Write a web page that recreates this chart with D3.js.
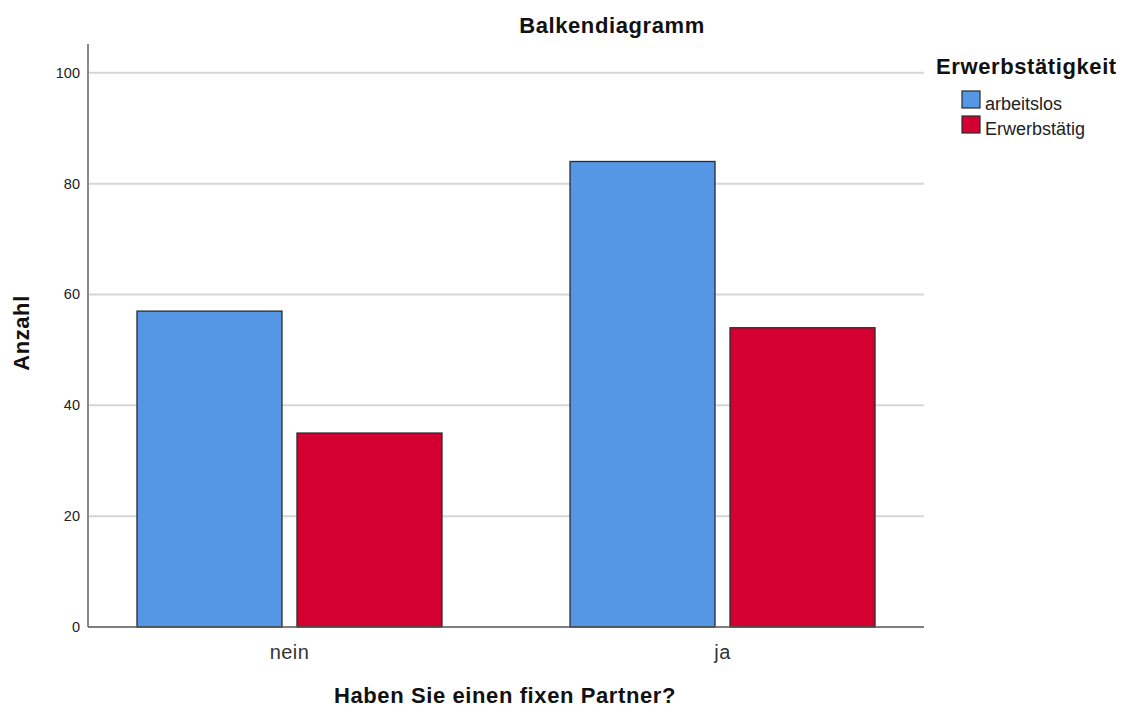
<!DOCTYPE html>
<html lang="de">
<head>
<meta charset="UTF-8">
<title>Balkendiagramm</title>
<style>
    body { margin: 0; background: #fff; font-family: "Liberation Sans", Arial, sans-serif; }
    .grid line { stroke: #d6d6d6; stroke-width: 2px; }
    .tick-label { font-size: 14.5px; fill: #222; }
    .cat-label { font-size: 20px; fill: #333; letter-spacing: 0.4px; }
    .axis-title { font-size: 22px; font-weight: bold; fill: #111; letter-spacing: 0.6px; }
</style>
</head>
<body>
<div id="chart"></div>
<script src="https://d3js.org/d3.v7.min.js"></script>
<script>
// data
const categories = ['nein', 'ja'];
const seriesNames = ['arbeitslos', 'Erwerbstätig'];
const arbeitslos = [57, 84];
const erwerbstaetig = [35, 54];
const yTicks = [0, 20, 40, 60, 80, 100];
const colors = ['#5596e5', '#d50032'];

const W = 1127, H = 709;
const plot = { left: 88, right: 924, top: 44, bottom: 627 };

const svg = d3.select('#chart').append('svg')
    .attr('width', W)
    .attr('height', H);

const y = d3.scaleLinear()
    .domain([0, 105.2])
    .range([plot.bottom, plot.top]);

const x = d3.scalePoint()
    .domain(categories)
    .range([plot.left, plot.right])
    .padding(0.4653);

const xs = d3.scaleBand()
    .domain(seriesNames)
    .range([-152.5, 152.5])
    .paddingInner(0.09375);

// gridlines
svg.append('g').attr('class', 'grid')
    .selectAll('line')
    .data(yTicks.filter(d => d > 0))
    .enter().append('line')
    .attr('x1', plot.left + 1)
    .attr('x2', plot.right)
    .attr('y1', d => y(d))
    .attr('y2', d => y(d));

// y tick labels
svg.append('g')
    .selectAll('text')
    .data(yTicks)
    .enter().append('text')
    .attr('class', 'tick-label')
    .attr('x', plot.left - 8)
    .attr('y', d => y(d) + 5)
    .attr('text-anchor', 'end')
    .text(d => d);

// bars
const rows = categories.map((c, i) => ({ cat: c, values: [arbeitslos[i], erwerbstaetig[i]] }));

const groups = svg.append('g')
    .selectAll('g')
    .data(rows)
    .enter().append('g')
    .attr('transform', d => `translate(${x(d.cat)},0)`);

groups.selectAll('rect')
    .data(d => d.values.map((v, j) => ({ name: seriesNames[j], value: v, j })))
    .enter().append('rect')
    .attr('x', d => xs(d.name))
    .attr('width', xs.bandwidth())
    .attr('y', d => y(d.value))
    .attr('height', d => y(0) - y(d.value))
    .attr('fill', d => colors[d.j])
    .attr('stroke', '#2b2b2b')
    .attr('stroke-width', 1.3);

// axis lines
svg.append('line')
    .attr('x1', plot.left).attr('x2', plot.left)
    .attr('y1', plot.top).attr('y2', plot.bottom)
    .attr('stroke', '#8a8a8a').attr('stroke-width', 2);

svg.append('line')
    .attr('x1', plot.left).attr('x2', plot.right)
    .attr('y1', plot.bottom).attr('y2', plot.bottom)
    .attr('stroke', '#555').attr('stroke-width', 1.5);

// category labels
svg.append('g')
    .selectAll('text')
    .data(categories)
    .enter().append('text')
    .attr('class', 'cat-label')
    .attr('x', d => x(d))
    .attr('y', 659)
    .attr('text-anchor', 'middle')
    .text(d => d);

// titles
svg.append('text')
    .attr('class', 'axis-title')
    .attr('x', 612).attr('y', 33)
    .attr('text-anchor', 'middle')
    .text('Balkendiagramm');

svg.append('text')
    .attr('class', 'axis-title')
    .attr('x', 505).attr('y', 703)
    .attr('text-anchor', 'middle')
    .text('Haben Sie einen fixen Partner?');

svg.append('text')
    .attr('class', 'axis-title')
    .attr('transform', 'translate(29,333) rotate(-90)')
    .attr('text-anchor', 'middle')
    .text('Anzahl');

// legend
const legend = svg.append('g').attr('transform', 'translate(936,0)');

legend.append('text')
    .attr('class', 'axis-title')
    .attr('x', 0).attr('y', 74)
    .text('Erwerbstätigkeit');

const items = legend.selectAll('g.item')
    .data(seriesNames)
    .enter().append('g')
    .attr('class', 'item')
    .attr('transform', (d, i) => `translate(26,${91 + i * 25})`);

items.append('rect')
    .attr('width', 18).attr('height', 17)
    .attr('fill', (d, i) => colors[i])
    .attr('stroke', '#2b2b2b')
    .attr('stroke-width', 1.2);

items.append('text')
    .attr('x', 23).attr('y', 19)
    .style('font-size', '18px')
    .style('fill', '#222')
    .text(d => d);
</script>
</body>
</html>
